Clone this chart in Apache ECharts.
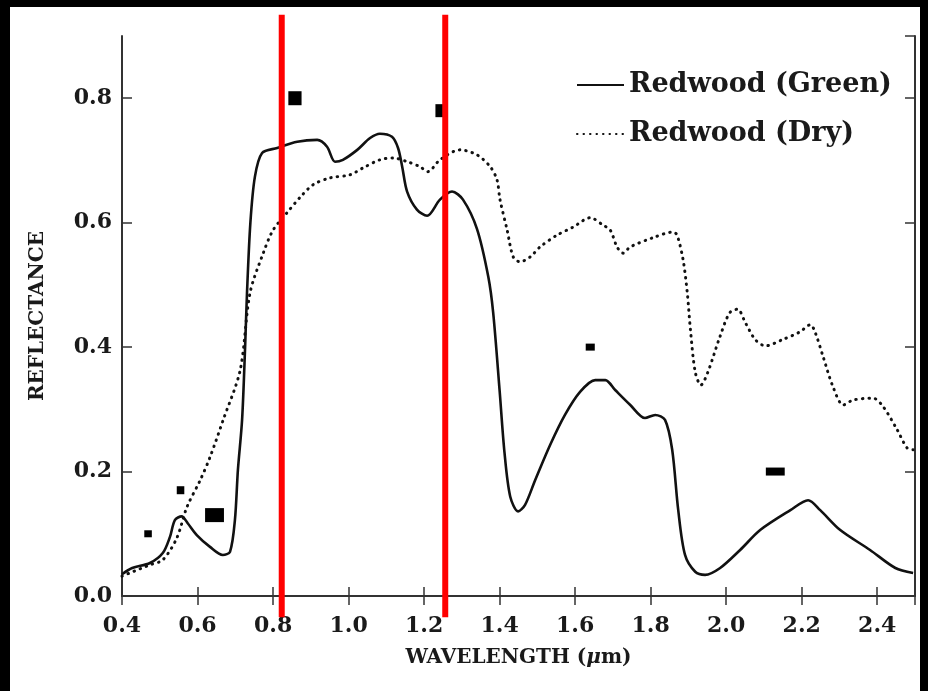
<!DOCTYPE html>
<html>
<head>
<meta charset="utf-8">
<script src="https://cdn.jsdelivr.net/npm/echarts@6/dist/echarts.min.js"></script>
<style>
  html, body { margin: 0; padding: 0; background: #000; width: 928px; height: 691px; overflow: hidden; }
  #chart { position: absolute; left: 10px; top: 7px; width: 910px; height: 684px; background: #fff; }
</style>
</head>
<body>
<div id="chart"></div>
<script>
// wavelength (um) / reflectance
var greenWl = [0.400, 0.427, 0.474, 0.508, 0.527, 0.540, 0.558, 0.574, 0.598, 0.633, 0.667, 0.686, 0.699, 0.707, 0.718, 0.726, 0.731, 0.740, 0.752, 0.771,
  0.811, 0.864, 0.917, 0.943, 0.964, 0.985, 1.023, 1.057, 1.083, 1.115, 1.131, 1.142, 1.155, 1.181, 1.208, 1.242, 1.274, 1.303, 1.340, 1.370,
  1.383, 1.400, 1.413, 1.428, 1.449, 1.467, 1.494, 1.534, 1.573, 1.613, 1.653, 1.680, 1.706, 1.746, 1.785, 1.812, 1.838, 1.857, 1.873, 1.891,
  1.918, 1.944, 1.984, 2.037, 2.090, 2.170, 2.217, 2.249, 2.302, 2.381, 2.448, 2.495];
var greenRefl = [0.035, 0.045, 0.053, 0.069, 0.095, 0.122, 0.128, 0.117, 0.098, 0.079, 0.066, 0.071, 0.122, 0.203, 0.283, 0.400, 0.487, 0.600, 0.674, 0.712,
  0.720, 0.730, 0.733, 0.722, 0.698, 0.701, 0.717, 0.736, 0.743, 0.738, 0.720, 0.690, 0.650, 0.621, 0.611, 0.637, 0.650, 0.637, 0.590, 0.513,
  0.455, 0.330, 0.230, 0.160, 0.136, 0.146, 0.186, 0.243, 0.291, 0.328, 0.347, 0.347, 0.331, 0.307, 0.286, 0.291, 0.283, 0.235, 0.138, 0.066,
  0.039, 0.034, 0.045, 0.074, 0.106, 0.138, 0.154, 0.138, 0.106, 0.074, 0.045, 0.037];

var dryWl = [0.400, 0.474, 0.508, 0.545, 0.572, 0.607, 0.633, 0.668, 0.713, 0.739, 0.774, 0.800, 0.837, 0.872, 0.906, 0.951, 1.004, 1.038, 1.083, 1.118,
  1.155, 1.189, 1.210, 1.242, 1.295, 1.340, 1.375, 1.393, 1.401, 1.420, 1.436, 1.454, 1.481, 1.507, 1.552, 1.595, 1.640, 1.674, 1.693, 1.711,
  1.727, 1.746, 1.807, 1.860, 1.870, 1.886, 1.897, 1.905, 1.918, 1.933, 1.951, 1.983, 2.009, 2.030, 2.051, 2.077, 2.104, 2.149, 2.194, 2.223,
  2.236, 2.257, 2.283, 2.310, 2.336, 2.389, 2.416, 2.453, 2.479, 2.495];
var dryRefl = [0.032, 0.050, 0.058, 0.093, 0.143, 0.186, 0.223, 0.283, 0.363, 0.487, 0.551, 0.588, 0.616, 0.641, 0.661, 0.672, 0.677, 0.688, 0.701, 0.704,
  0.698, 0.690, 0.682, 0.701, 0.717, 0.709, 0.690, 0.669, 0.637, 0.588, 0.545, 0.537, 0.545, 0.561, 0.580, 0.593, 0.608, 0.596, 0.588, 0.561,
  0.551, 0.561, 0.576, 0.585, 0.580, 0.540, 0.487, 0.430, 0.360, 0.339, 0.359, 0.416, 0.455, 0.461, 0.439, 0.412, 0.402, 0.412, 0.424, 0.436,
  0.423, 0.384, 0.336, 0.307, 0.315, 0.318, 0.304, 0.267, 0.238, 0.235];

// band markers: centre wavelength, reflectance, band width (um)
var bandWl = [0.469, 0.555, 0.645, 0.858, 1.240, 1.640, 2.130];
var bandRefl = [0.10, 0.17, 0.13, 0.80, 0.78, 0.40, 0.20];
var bandWidth = [0.02, 0.02, 0.05, 0.035, 0.02, 0.024, 0.05];
var bandMarkH = [7, 8, 14, 14, 13, 7, 8]; // px, style only

// red overlay lines
var redWl = [0.823, 1.256];
var redSpan = [-0.034, 0.934];

var seriesNames = ['Redwood (Green)', 'Redwood (Dry)'];
var xTicks = { min: 0.4, max: 2.5, step: 0.2 };
var yTicks = { min: 0, max: 0.9, step: 0.2 };

function pairs(a, b) {
  return a.map(function (v, i) { return [v, b[i]]; });
}

var chart = echarts.init(document.getElementById('chart'));
var font = 'DejaVu Serif';
var frame = '#333';

var tickFmt = function (v) {
  var r = Math.round(v / 0.2) * 0.2;
  return Math.abs(r - v) < 1e-6 ? v.toFixed(1) : '';
};

var option = {
  backgroundColor: 'transparent',
  animation: false,
  grid: { left: 112, right: 5, top: 29, bottom: 95 },
  legend: {
    orient: 'vertical',
    left: 561,
    top: 59,
    itemWidth: 47,
    itemHeight: 14,
    itemGap: 21,
    data: seriesNames,
    itemStyle: { opacity: 0 },
    textStyle: { fontFamily: font, fontWeight: 'bold', fontSize: 27, color: '#1a1a1a', lineHeight: 28 }
  },
  xAxis: [{
    type: 'value', min: xTicks.min, max: xTicks.max, interval: xTicks.step,
    name: '{a|WAVELENGTH (}{b|μ}{a|m)}',
    nameLocation: 'middle', nameGap: 52,
    nameTextStyle: {
      rich: {
        a: { fontFamily: font, fontWeight: 'bold', fontSize: 20, color: '#1a1a1a' },
        b: { fontFamily: font, fontWeight: 'bold', fontStyle: 'italic', fontSize: 20, color: '#1a1a1a' }
      }
    },
    axisLine: { show: true, lineStyle: { color: frame, width: 2 } },
    axisTick: { show: true, inside: true, length: 9, lineStyle: { color: frame, width: 1.5 } },
    axisLabel: { showMaxLabel: false, margin: 19, formatter: tickFmt, fontFamily: font, fontWeight: 'bold', fontSize: 22, color: '#1a1a1a' },
    splitLine: { show: false }
  }, {
    type: 'value', position: 'top', min: xTicks.min, max: xTicks.max, interval: xTicks.step,
    axisLine: { show: true, lineStyle: { color: frame, width: 2 } },
    axisTick: { show: true, inside: true, length: 9, lineStyle: { color: frame, width: 1.5 } },
    axisLabel: { show: false },
    splitLine: { show: false }
  }],
  yAxis: [{
    type: 'value', min: yTicks.min, max: yTicks.max, interval: yTicks.step,
    name: 'REFLECTANCE',
    nameLocation: 'middle', nameGap: 74,
    nameTextStyle: { fontFamily: font, fontWeight: 'bold', fontSize: 20, color: '#1a1a1a' },
    axisLine: { show: true, lineStyle: { color: frame, width: 2 } },
    axisTick: { show: true, inside: true, length: 10, lineStyle: { color: frame, width: 1.5 } },
    axisLabel: { showMaxLabel: false, margin: 10, formatter: tickFmt, fontFamily: font, fontWeight: 'bold', fontSize: 22, color: '#1a1a1a' },
    splitLine: { show: false }
  }, {
    type: 'value', position: 'right', min: yTicks.min, max: yTicks.max, interval: yTicks.step,
    axisLine: { show: true, lineStyle: { color: frame, width: 2 } },
    axisTick: { show: true, inside: true, length: 10, lineStyle: { color: frame, width: 1.5 } },
    axisLabel: { show: false },
    splitLine: { show: false }
  }],
  series: [{
    name: seriesNames[0],
    type: 'line',
    data: pairs(greenWl, greenRefl),
    showSymbol: false,
    symbol: 'none',
    smooth: 0.3,
    lineStyle: { color: '#111', width: 2.6 },
    itemStyle: { color: '#111' },
    z: 3
  }, {
    name: seriesNames[1],
    type: 'line',
    data: pairs(dryWl, dryRefl),
    showSymbol: false,
    symbol: 'none',
    smooth: 0.3,
    lineStyle: { color: '#111', width: 3, type: [0.5, 6], cap: 'round' },
    itemStyle: { color: '#111' },
    z: 3
  }, {
    type: 'custom',
    data: bandWl.map(function (w, i) { return [w, bandRefl[i], bandWidth[i]]; }),
    encode: { x: 0, y: 1 },
    renderItem: function (params, api) {
      var w = api.value(0), r = api.value(1), bw = api.value(2);
      var p0 = api.coord([w - bw / 2, r]);
      var p1 = api.coord([w + bw / 2, r]);
      var h = bandMarkH[params.dataIndex];
      return {
        type: 'rect',
        shape: { x: p0[0], y: p0[1] - h / 2, width: p1[0] - p0[0], height: h },
        style: { fill: '#000' }
      };
    },
    z: 4
  }, {
    type: 'custom',
    clip: false,
    data: redWl.map(function (w) { return [w, redSpan[0], redSpan[1]]; }),
    encode: { x: 0, y: [1, 2] },
    renderItem: function (params, api) {
      var a = api.coord([api.value(0), api.value(1)]);
      var b = api.coord([api.value(0), api.value(2)]);
      return {
        type: 'line',
        shape: { x1: a[0], y1: a[1], x2: b[0], y2: b[1] },
        style: { stroke: '#ff0000', lineWidth: 6 }
      };
    },
    z: 10
  }]
};

chart.setOption(option);
</script>
</body>
</html>
